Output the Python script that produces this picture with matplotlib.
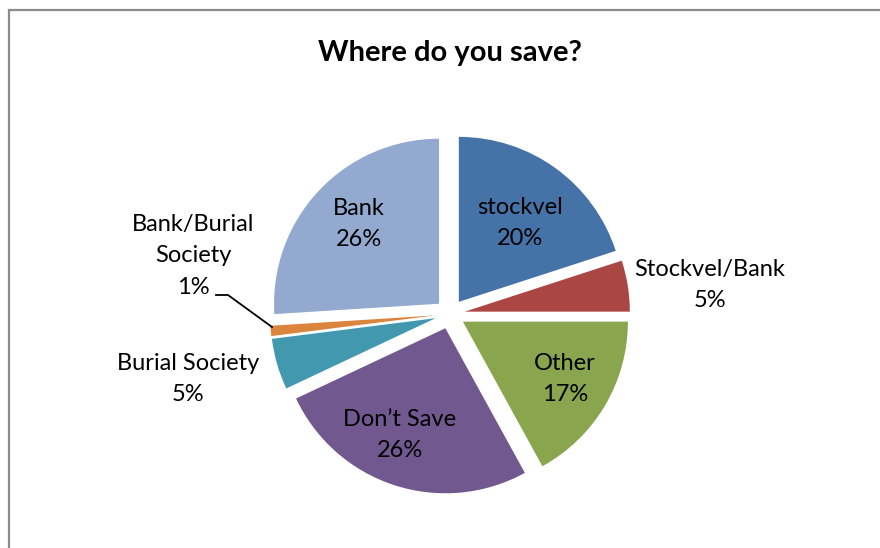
import numpy as np
import matplotlib.pyplot as plt
from matplotlib.patches import Rectangle

# data
labels = ["stockvel", "Stockvel/Bank", "Other", "Don\u2019t Save",
          "Burial Society", "Bank/Burial\nSociety", "Bank"]
shares = [20, 5, 17, 26, 5, 1, 26]
colors = ["#4572A7", "#AA4643", "#89A54E", "#71588F",
          "#4198AF", "#DB843D", "#93A9CF"]

# label anchor positions in pixels (x, y from top)
label_pos = [(520, 223), (710, 285), (565, 379), (400, 435),
             (188, 379), (193, 256), (359, 224)]

W, H = 880, 548
plt.rcParams['font.family'] = ['Lato', 'DejaVu Sans']

fig = plt.figure(figsize=(W / 100, H / 100), dpi=100)
ax = fig.add_axes([0, 0, 1, 1])

cx, cy, r = 450, H - 314, 165
ax.pie(shares, colors=colors, startangle=90, counterclock=False,
       center=(cx, cy), radius=r, explode=[15] * len(shares),
       wedgeprops=dict(linewidth=0))

ax.set_xlim(0, W)
ax.set_ylim(0, H)
ax.set_aspect('equal')
ax.axis('off')

# chart border (only left and top edges visible)
ax.add_patch(Rectangle((9, -20), W + 40, H - 10 + 20, fill=False,
                       edgecolor='#8c8c8c', linewidth=1.6))

for i, (lab, v) in enumerate(zip(labels, shares)):
    x, y = label_pos[i]
    ax.text(x, H - y, f"{lab}\n{v}%", ha='center', va='center',
            fontsize=17, linespacing=1.6, color='black')

# leader line for the 1% slice
ax.plot([216, 228, 272], [H - 295, H - 295, H - 327], color='black', lw=1.3)

ax.text(450, H - 53, "Where do you save?", ha='center', va='center',
        fontsize=21, fontweight='bold')

fig.savefig("out.png", dpi=100)
